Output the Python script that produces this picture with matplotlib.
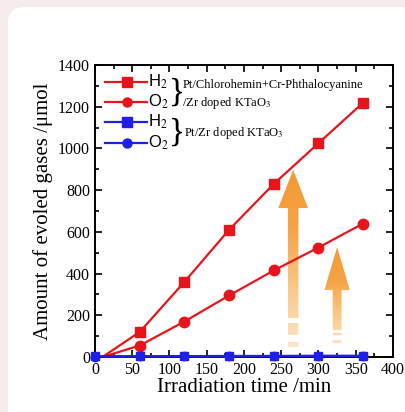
import numpy as np
import matplotlib
matplotlib.use("Agg")
import matplotlib.pyplot as plt
from matplotlib.patches import FancyBboxPatch, PathPatch
from matplotlib.path import Path
from matplotlib.ticker import MultipleLocator

plt.rcParams["mathtext.fontset"] = "stix"

# Data
time_red = [10, 60, 120, 180, 240, 300, 360]
h2_red = [0, 120, 360, 610, 830, 1025, 1220]
time_o2 = [10, 60, 120, 180, 240, 300, 360]
o2_red = [0, 55, 170, 295, 415, 525, 640]
time_blue = [0, 60, 120, 180, 240, 300, 360]
h2_blue = [3, 4, 4, 5, 5, 6, 6]
o2_blue = [2, 3, 3, 3, 4, 4, 4]

RED = "#e8141c"
BLUE = "#1f1fe6"
serif = ["Liberation Serif", "DejaVu Serif"]

fig = plt.figure(figsize=(4.06, 4.12), dpi=100)
fig.patch.set_facecolor("#f6ecec")
panel = FancyBboxPatch((8 / 406, -0.1), 1.2, (412 - 7) / 412 + 0.1,
                       boxstyle="round,pad=0,rounding_size=0.04",
                       transform=fig.transFigure, facecolor="white",
                       edgecolor="none", zorder=-5)
fig.add_artist(panel)

ax = fig.add_axes([95 / 406, 1 - 357 / 412, 298 / 406, 292 / 412])
ax.set_zorder(2)
ax.set_facecolor("none")

marks = range(1, 7)
ax.plot(time_red, h2_red, "-s", color=RED, ms=7, lw=1.6, zorder=3, markevery=marks)
ax.plot(time_o2, o2_red, "-o", color=RED, ms=7.5, lw=1.6, zorder=3, markevery=marks)
ax.plot(time_blue, h2_blue, "-s", color=BLUE, ms=6, lw=1.6, zorder=4, clip_on=False)
ax.plot(time_blue, o2_blue, "-o", color=BLUE, ms=6, lw=1.6, zorder=4, clip_on=False)

ax.set_xlim(0, 400)
ax.set_ylim(0, 1400)
ax.xaxis.set_major_locator(MultipleLocator(50))
ax.xaxis.set_minor_locator(MultipleLocator(25))
ax.yaxis.set_major_locator(MultipleLocator(200))
ax.yaxis.set_minor_locator(MultipleLocator(100))
ax.tick_params(which="both", direction="in", top=True, right=True, width=1.2)
ax.tick_params(which="major", length=5, labelsize=11.5)
ax.tick_params(which="minor", length=3)
for lab in ax.get_xticklabels() + ax.get_yticklabels():
    lab.set_family(serif)
for s in ax.spines.values():
    s.set_linewidth(1.4)

ax.set_xlabel("Irradiation time /min", family=serif, fontsize=15, labelpad=0)
ax.set_ylabel("Amount of evoled gases /\u03bcmol", family=serif, fontsize=15, labelpad=4)


# gradient arrows
def arrow_path(xc, tip, base, bottom, stripes, hw, sw):
    polys = [[(xc, tip), (xc + hw, base), (xc + sw, base), (xc + sw, bottom),
              (xc - sw, bottom), (xc - sw, base), (xc - hw, base), (xc, tip)]]
    for a, b in stripes:
        polys.append([(xc - sw, a), (xc + sw, a), (xc + sw, b), (xc - sw, b), (xc - sw, a)])
    return Path.make_compound_path(*[Path(p, closed=True) for p in polys])


grad = np.linspace(0, 1, 256).reshape(-1, 1)
cmap = matplotlib.colors.LinearSegmentedColormap.from_list(
    "org", ["#fde7cc", "#f9c98a", "#f5a445", "#f39a33"])
arrows = [
    (266, 897, 714, 187, [(163, 106), (72, 48)], 20, 7),
    (325, 527, 321, 129, [(115, 105), (81, 67)], 17, 6),
]
for xc, tip, base, bottom, stripes, hw, sw in arrows:
    path = arrow_path(xc, tip, base, bottom, stripes, hw, sw)
    patch = PathPatch(path, facecolor="none", edgecolor="none", transform=ax.transData)
    ax.add_patch(patch)
    im = ax.imshow(grad, cmap=cmap, aspect="auto", origin="lower",
                   extent=[xc - hw, xc + hw, 40, tip], zorder=2)
    im.set_clip_path(patch)
ax.set_xlim(0, 400)
ax.set_ylim(0, 1400)

# custom legend
T = ax.transAxes
rows = [(0.942, RED, "s", "H$_2$"), (0.873, RED, "o", "O$_2$"),
        (0.805, BLUE, "s", "H$_2$"), (0.733, BLUE, "o", "O$_2$")]
for y, c, m, lab in rows:
    ax.plot([0.034, 0.174], [y, y], color=c, lw=1.6, transform=T)
    ax.plot([0.107], [y], marker=m, color=c, ms=6.5, transform=T)
    ax.text(0.178, y, lab, transform=T, va="center", ha="left", fontsize=12,
            family=["Liberation Sans", "DejaVu Sans"])
ax.text(0.248, 0.905, "}", transform=T, va="center", ha="left", fontsize=24,
        family=serif)
ax.text(0.248, 0.770, "}", transform=T, va="center", ha="left", fontsize=24,
        family=serif)
ax.text(0.293, 0.932, "Pt/Chlorohemin+Cr-Phthalocyanine", transform=T, va="center",
        ha="left", fontsize=9, family=serif)
ax.text(0.293, 0.870, "/Zr doped KTaO$_3$", transform=T, va="center",
        ha="left", fontsize=9, family=serif)
ax.text(0.300, 0.768, "Pt/Zr doped KTaO$_3$", transform=T, va="center",
        ha="left", fontsize=9, family=serif)

fig.savefig("out.png", dpi=100)
